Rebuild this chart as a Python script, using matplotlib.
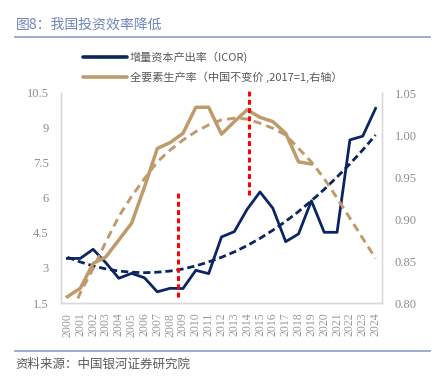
import matplotlib
matplotlib.use("Agg")
import matplotlib.pyplot as plt
from matplotlib.lines import Line2D
import matplotlib.transforms as mtransforms

plt.rcParams['font.family'] = ['Noto Sans CJK SC', 'DejaVu Sans']

years = [str(y) for y in range(2000, 2025)]
icor = [3.41, 3.41, 3.80, 3.22, 2.56, 2.77, 2.58, 1.98, 2.13, 2.12, 2.90, 2.76,
        4.33, 4.56, 5.52, 6.26, 5.56, 4.13, 4.46, 5.88, 4.53, 4.53, 8.49, 8.65, 9.84]
icor_trend = [3.46, 3.26, 3.09, 2.96, 2.87, 2.82, 2.80, 2.82, 2.87, 2.96, 3.09, 3.26,
              3.46, 3.69, 3.96, 4.27, 4.62, 5.00, 5.42, 5.88, 6.37, 6.90, 7.46, 8.06, 8.70]
tfp_years = years[:20]
tfp = [0.8075, 0.8175, 0.847, 0.855, 0.875, 0.895, 0.938, 0.984, 0.991, 1.002,
       1.033, 1.033, 1.001, 1.016, 1.030, 1.021, 1.016, 1.002, 0.968, 0.9655]
tfp_trend = [0.776, 0.812, 0.841, 0.873, 0.903, 0.927, 0.948, 0.968, 0.982, 0.994,
             1.004, 1.012, 1.018, 1.020, 1.019, 1.014, 1.008, 1.000, 0.984, 0.968,
             0.948, 0.925, 0.901, 0.877, 0.853]
left_ticks = [1.5, 3, 4.5, 6, 7.5, 9, 10.5]
left_labels = ['1.5', '3', '4.5', '6', '7.5', '9', '10.5']
right_ticks = [0.80, 0.85, 0.90, 0.95, 1.00, 1.05]
right_labels = ['0.80', '0.85', '0.90', '0.95', '1.00', '1.05']

title = '图8：我国投资效率降低'
legend_labels = ['增量资本产出率（ICOR)', '全要素生产率（中国不变价 ,2017=1,右轴）']
source = '资料来源：中国银河证券研究院'

navy = '#0B2562'
tan = '#BF9B6C'
tick_color = '#8C8C8C'
spine_color = '#D9D9D9'

W, H = 441, 379
fig = plt.figure(figsize=(W / 100, H / 100), dpi=100)
fig.patch.set_facecolor('white')

L, R, T, B = 61, 382, 93, 303
ax = fig.add_axes([L / W, 1 - B / H, (R - L) / W, (B - T) / H])
ax2 = ax.twinx()

x = list(range(len(years)))
xt = list(range(len(tfp_years)))

ax.plot(x, icor_trend, color=navy, lw=2.0, dashes=(2.6, 1.4), zorder=2)
ax.plot(x, icor, color=navy, lw=2.0, zorder=3)
ax2.plot(x, tfp_trend, color=tan, lw=2.1, dashes=(2.8, 1.8), zorder=2)
ax2.plot(xt, tfp, color=tan, lw=2.5, zorder=3)

ax.set_xlim(-0.5, len(years) - 0.5)
ax.set_ylim(1.5, 10.5)
ax2.set_ylim(0.80, 1.05)

ax.set_yticks(left_ticks)
ax.set_yticklabels(left_labels)
ax2.set_yticks(right_ticks)
ax2.set_yticklabels(right_labels)
ax.set_xticks(x)
ax.set_xticklabels(years, rotation=90)

for a in (ax, ax2):
    a.tick_params(length=0, colors=tick_color, labelsize=9)
    for lab in a.get_yticklabels():
        lab.set_fontfamily('Liberation Serif')
    for s in a.spines.values():
        s.set_color(spine_color)
        s.set_linewidth(1.0)
    a.spines['top'].set_visible(False)
ax.tick_params(axis='y', pad=9)
ax2.tick_params(axis='y', pad=9)
ax.tick_params(axis='x', pad=7, labelsize=8.5, colors='#999999')
for lab in ax.get_xticklabels():
    lab.set_fontfamily('Liberation Serif')

# red dashed markers
trans = mtransforms.blended_transform_factory(ax2.transData, ax2.transAxes)
for xv, y0, y1 in [(8.6, 0.029, 0.538), (14.15, 0.514, 1.014)]:
    ax2.add_line(Line2D([xv, xv], [y0, y1], transform=trans, color='#FF0000', lw=2.2,
                        dashes=(1.6, 1.1), clip_on=False, zorder=10))

# legend
def fx(px):
    return px / W

def fy(py):
    return 1 - py / H

for py, col, lab in [(57, navy, legend_labels[0]), (77, tan, legend_labels[1])]:
    fig.add_artist(Line2D([fx(83), fx(127)], [fy(py), fy(py)], color=col, lw=2.6,
                          solid_capstyle='round'))
    fig.text(fx(130), fy(py), lab, fontsize=8, color='#595959', va='center', ha='left')

# title and rules
fig.text(fx(16), fy(25), title, fontsize=10, color='#6F84BC', va='center', ha='left')
fig.add_artist(Line2D([fx(15), fx(430)], [fy(37), fy(37)], color='#95A5CC', lw=1.3))
fig.add_artist(Line2D([fx(15), fx(430)], [fy(351), fy(351)], color='#95A5CC', lw=1.3))
fig.text(fx(15), fy(364), source, fontsize=9, color='#595959', va='center', ha='left',
         style='italic')

fig.savefig('out.png', dpi=100)
